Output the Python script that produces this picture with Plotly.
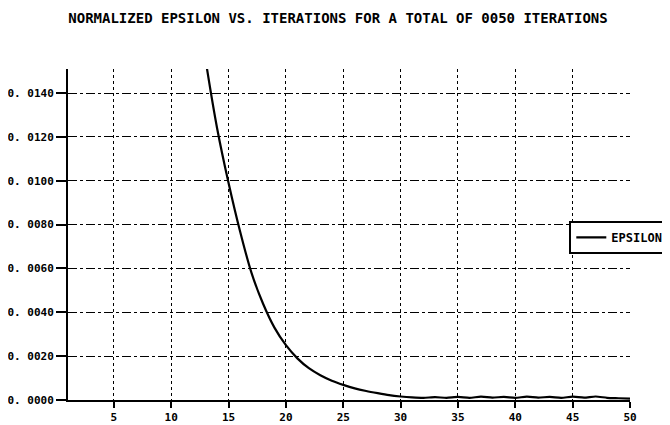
import plotly.graph_objects as go

iterations = list(range(12, 51))
epsilon = [0.0190, 0.0155, 0.0124, 0.0099, 0.0077, 0.0058, 0.0044, 0.0033, 0.0025,
           0.0019, 0.00145, 0.00113, 0.00088, 0.00069, 0.00053, 0.00041, 0.00031,
           0.00022, 0.00016, 0.00012, 0.00010, 0.00013, 0.00010, 0.00014, 0.00010,
           0.00015, 0.00011, 0.00014, 0.00010, 0.00015, 0.00011, 0.00014, 0.00010,
           0.00015, 0.00011, 0.00016, 0.00010, 0.00008, 0.00006]

y_ticks = [0.0, 0.002, 0.004, 0.006, 0.008, 0.010, 0.012, 0.014]
y_labels = ["0. 0000", "0. 0020", "0. 0040", "0. 0060", "0. 0080", "0. 0100", "0. 0120", "0. 0140"]
x_ticks = [5, 10, 15, 20, 25, 30, 35, 40, 45, 50]
x_labels = [str(v) for v in x_ticks]

title = "NORMALIZED EPSILON VS. ITERATIONS FOR A TOTAL OF 0050 ITERATIONS"

fig = go.Figure()
fig.add_trace(go.Scatter(x=iterations, y=epsilon, mode="lines", name="<b>EPSILON</b>",
                         line=dict(color="black", width=2.2, shape="spline", smoothing=0.6)))

fig.update_layout(
    width=662, height=417,
    margin=dict(l=60, r=40, t=61, b=25, autoexpand=False),
    paper_bgcolor="white", plot_bgcolor="white",
    title=dict(text="<b>" + title + "</b>", x=0.4985, xanchor="center", y=0.976, yanchor="middle",
               font=dict(family="DejaVu Sans Mono", size=14, color="black")),
    showlegend=True,
    legend=dict(x=0.892, xanchor="left", y=0.541, yanchor="top",
                bgcolor="white", bordercolor="black", borderwidth=2,
                font=dict(family="DejaVu Sans Mono", size=12, color="black"),
                itemwidth=30),
    xaxis=dict(range=[1, 50], tickvals=x_ticks, ticktext=["<b>%s</b>" % t for t in x_labels],
               showgrid=True, gridcolor="black", gridwidth=1, griddash="dot",
               showline=True, linecolor="black", linewidth=2,
               ticks="outside", ticklen=6, tickwidth=2, tickcolor="black",
               tickfont=dict(family="DejaVu Sans Mono", size=11, color="black"),
               zeroline=False, fixedrange=True, automargin=False),
    yaxis=dict(range=[0, 0.0151], tickvals=y_ticks, ticktext=["<b>%s</b>" % t for t in y_labels],
               showgrid=True, gridcolor="black", gridwidth=1, griddash="dashdot",
               showline=True, linecolor="black", linewidth=2,
               ticks="outside", ticklen=10, tickwidth=1.5, tickcolor="black",
               tickfont=dict(family="DejaVu Sans Mono", size=11, color="black"),
               zeroline=False, fixedrange=True, automargin=False),
)

fig.write_html("out.html")
